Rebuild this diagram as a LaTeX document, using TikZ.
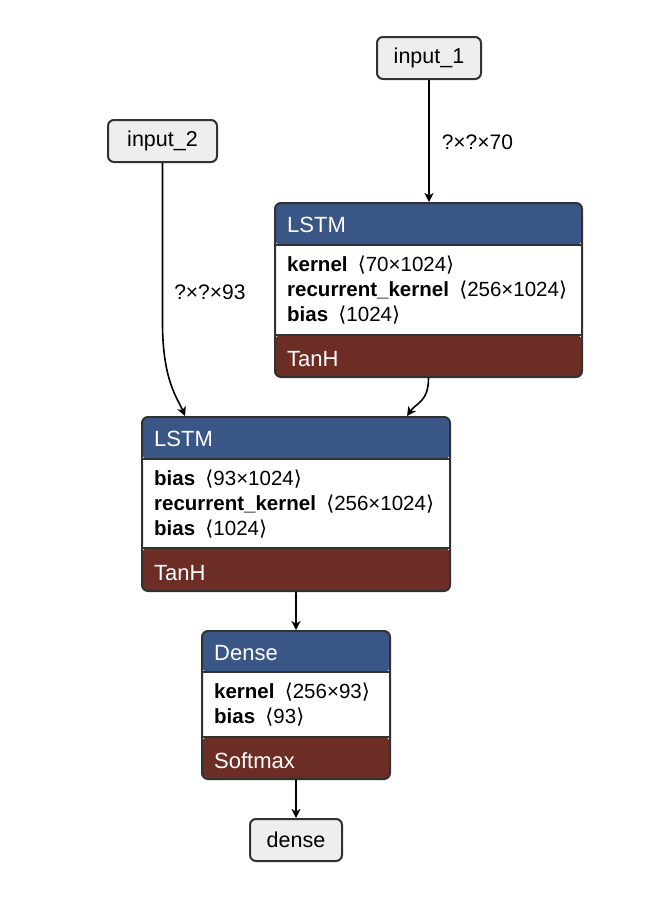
\documentclass[tikz,border=0pt]{standalone}
\usepackage{fontspec}
\setmainfont{Liberation Sans}
\newfontfamily\bracketfont{DejaVu Sans}
\usepackage{tikz}
\usetikzlibrary{arrows.meta,positioning}
\definecolor{layerblue}{RGB}{58,86,135}
\definecolor{actred}{RGB}{108,45,37}
\definecolor{framegray}{RGB}{50,50,50}
\definecolor{inputfill}{RGB}{238,238,238}
\newcommand{\shp}[1]{\hspace{0.5em}{\bracketfont ⟨}#1{\bracketfont ⟩}}

\begin{document}
\begin{tikzpicture}[x=1pt, y=-1pt,
    layer/.style={draw=framegray, line width=2pt, rounded corners=6pt, fill=white, inner sep=0pt},
    bands/.style 2 args={path picture={
        \fill[layerblue] (path picture bounding box.north west) rectangle ([yshift=-#1]path picture bounding box.north east);
        \fill[actred] (path picture bounding box.south west) rectangle ([yshift=#2]path picture bounding box.south east);
        \draw[framegray, line width=2pt] ([yshift=-#1]path picture bounding box.north west) -- ([yshift=-#1]path picture bounding box.north east);
        \draw[framegray, line width=2pt] ([yshift=#2]path picture bounding box.south west) -- ([yshift=#2]path picture bounding box.south east);}},
    io/.style={draw=framegray, line width=2pt, rounded corners=6pt, fill=inputfill, inner sep=0pt, minimum height=42pt, font=\fontsize{21.5}{25}\selectfont},
    ttl/.style={text=white, anchor=base west, inner sep=0pt, font=\fontsize{22}{26}\selectfont},
    att/.style={anchor=base west, inner sep=0pt, font=\fontsize{20.5}{24}\selectfont},
    elabel/.style={anchor=base west, inner sep=0pt, font=\fontsize{21}{24}\selectfont},
    flow/.style={draw=black, line width=1.6pt, -{Stealth[length=9pt, width=9pt, inset=2.5pt]}}]

  \useasboundingbox (0,0) rectangle (668,918);

  % inputs and output
  \node[io, minimum width=104pt] (in1) at (429,58) {input\_1};
  \node[io, minimum width=109pt] (in2) at (162.5,141) {input\_2};
  \node[io, minimum width=92pt] (out) at (296,840) {dense};

  % first LSTM
  \node[layer, bands={42pt}{42pt}, minimum width=307pt, minimum height=174pt] (lstm1) at (428.5,290) {};
  \node[ttl] (lstm1t) at ([xshift=13pt, yshift=-30pt]lstm1.north west) {LSTM};
  \node[att] (lstm1k) at ([xshift=13pt, yshift=-69pt]lstm1.north west) {\textbf{kernel}\shp{70×1024}};
  \node[att] (lstm1r) at ([xshift=13pt, yshift=-94pt]lstm1.north west) {\textbf{recurrent\_kernel}\shp{256×1024}};
  \node[att] (lstm1b) at ([xshift=13pt, yshift=-119pt]lstm1.north west) {\textbf{bias}\shp{1024}};
  \node[ttl] (lstm1a) at ([xshift=13pt, yshift=12pt]lstm1.south west) {TanH};

  % second LSTM
  \node[layer, bands={42pt}{43pt}, minimum width=308pt, minimum height=174pt] (lstm2) at (296,504) {};
  \node[ttl] (lstm2t) at ([xshift=13pt, yshift=-30pt]lstm2.north west) {LSTM};
  \node[att] (lstm2k) at ([xshift=13pt, yshift=-69pt]lstm2.north west) {\textbf{bias}\shp{93×1024}};
  \node[att] (lstm2r) at ([xshift=13pt, yshift=-94pt]lstm2.north west) {\textbf{recurrent\_kernel}\shp{256×1024}};
  \node[att] (lstm2b) at ([xshift=13pt, yshift=-119pt]lstm2.north west) {\textbf{bias}\shp{1024}};
  \node[ttl] (lstm2a) at ([xshift=13pt, yshift=12pt]lstm2.south west) {TanH};

  % dense layer
  \node[layer, bands={41pt}{42pt}, minimum width=188pt, minimum height=148pt] (dense) at (296,705) {};
  \node[ttl] (denset) at ([xshift=13pt, yshift=-30pt]dense.north west) {Dense};
  \node[att] (densek) at ([xshift=13pt, yshift=-68pt]dense.north west) {\textbf{kernel}\shp{256×93}};
  \node[att] (denseb) at ([xshift=13pt, yshift=-93pt]dense.north west) {\textbf{bias}\shp{93}};
  \node[ttl] (densea) at ([xshift=13pt, yshift=12pt]dense.south west) {Softmax};

  \coordinate (l2in) at ([xshift=-111pt]lstm2.north);
  \coordinate (l2st) at ([xshift=111pt]lstm2.north);

  % connections
  \draw[flow] (in1.south) -- node[elabel, midway, xshift=12pt, yshift=-8pt] (lab1) {?×?×70} (in1.south |- lstm1.north);
  \draw[flow] (in2.south) -- ++(0,160) node[elabel, pos=0.85, xshift=11pt] (lab2) {?×?×93}
      .. controls +(0,58) and +(-7,-17) .. (l2in);
  \draw[flow] (lstm1.south) .. controls +(0,24) and +(9,-13) .. (l2st);
  \draw[flow] (lstm2.south) -- (dense.north);
  \draw[flow] (dense.south) -- (out.north);
\end{tikzpicture}
\end{document}
